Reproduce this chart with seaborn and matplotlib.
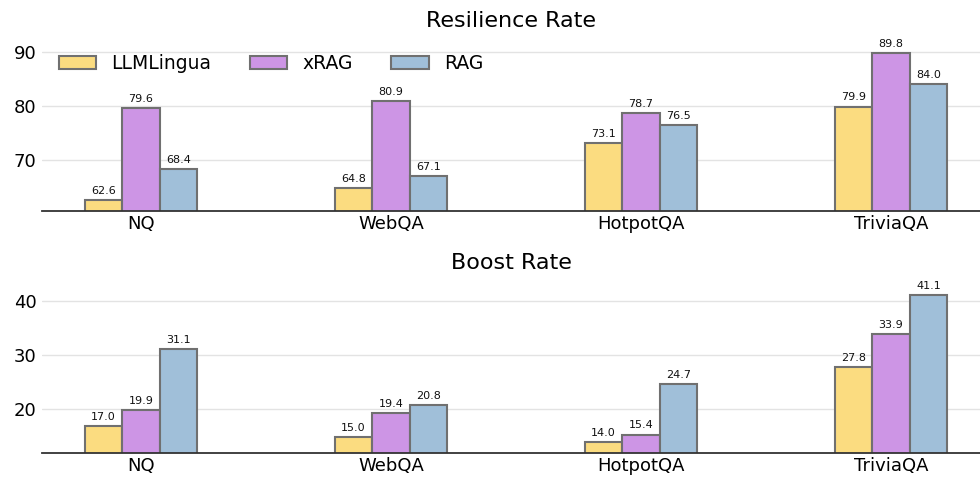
import matplotlib
matplotlib.use("Agg")
import matplotlib.pyplot as plt
import seaborn as sns
import pandas as pd

datasets = ["NQ", "WebQA", "HotpotQA", "TriviaQA"]
methods = ["LLMLingua", "xRAG", "RAG"]
resilience = {
    "LLMLingua": [62.6, 64.8, 73.1, 79.9],
    "xRAG": [79.6, 80.9, 78.7, 89.8],
    "RAG": [68.4, 67.1, 76.5, 84.0],
}
boost = {
    "LLMLingua": [17.0, 15.0, 14.0, 27.8],
    "xRAG": [19.9, 19.4, 15.4, 33.9],
    "RAG": [31.1, 20.8, 24.7, 41.1],
}
titles = ["Resilience Rate", "Boost Rate"]
colors = ["#FBDC80", "#CD95E5", "#A0BFD9"]

sns.set_theme(style="white")
plt.rcParams["font.family"] = ["DejaVu Sans"]
plt.rcParams["text.color"] = "black"
plt.rcParams["xtick.color"] = "black"
plt.rcParams["ytick.color"] = "black"

fig, axes = plt.subplots(2, 1, figsize=(9.8, 4.84), dpi=100)
fig.subplots_adjust(left=42/980, right=1.0, top=1-42/484, bottom=1-453/484, hspace=0.43)

for ax, data, title in zip(axes, [resilience, boost], titles):
    rows = []
    for m in methods:
        for d, v in zip(datasets, data[m]):
            rows.append({"Dataset": d, "Method": m, "Value": v})
    df = pd.DataFrame(rows)
    sns.barplot(data=df, x="Dataset", y="Value", hue="Method", hue_order=methods,
                order=datasets, palette=colors, width=0.45, edgecolor="#707070",
                linewidth=1.5, ax=ax, saturation=1, errorbar=None)
    for cont in ax.containers:
        ax.bar_label(cont, fmt="%.1f", padding=3, fontsize=8, color="#111111")
    vals = df["Value"]
    ax.set_ylim(vals.min() - 2, vals.max() + 2)
    ax.set_xlim(-0.396, 3.356)
    ax.set_title(title, fontsize=16, pad=11, color="black")
    ax.set_xlabel("")
    ax.set_ylabel("")
    ax.grid(axis="y", color="#e3e3e3", linewidth=1)
    ax.set_axisbelow(True)
    for s in ["top", "right", "left"]:
        ax.spines[s].set_visible(False)
    ax.spines["bottom"].set_color("#333333")
    ax.spines["bottom"].set_linewidth(1.3)
    ax.tick_params(axis="both", length=0, labelsize=13, pad=4)
    ax.tick_params(axis="x", pad=3)

axes[0].set_yticks([70, 80, 90])
axes[1].set_yticks([20, 30, 40])
axes[0].legend(loc="upper left", bbox_to_anchor=(0.0, 1.03), ncol=3, frameon=False,
               fontsize=13.5, columnspacing=2.05, handletextpad=0.8)
axes[1].get_legend().remove()

fig.savefig("out.png", dpi=100)
